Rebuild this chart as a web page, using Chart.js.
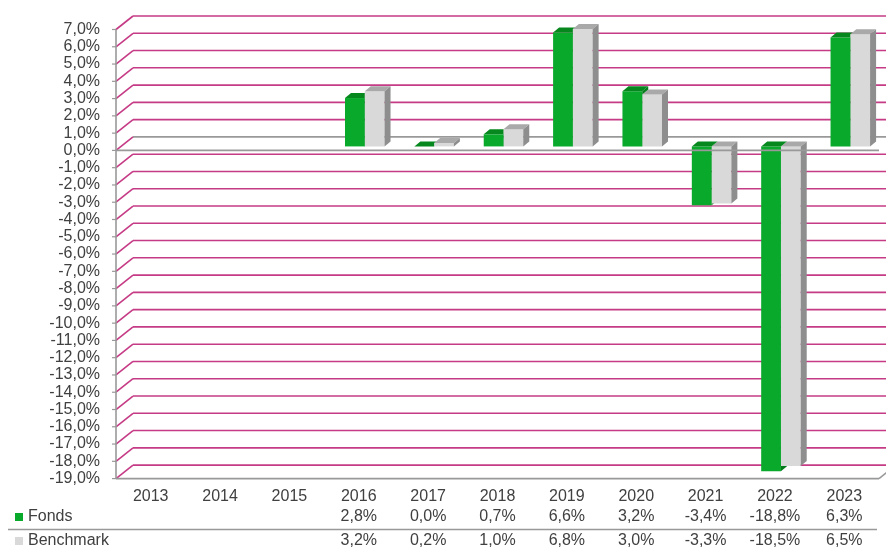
<!DOCTYPE html>
<html>
<head>
<meta charset="utf-8">
<script src="https://cdn.jsdelivr.net/npm/chart.js@4"></script>
<style>
  body { margin: 0; background: #fff; }
  canvas { display: block; }
</style>
</head>
<body>
<canvas id="perfChart" width="886" height="550"></canvas>
<script>
// Yearly performance, fund vs. benchmark (percent)
const years = ['2013', '2014', '2015', '2016', '2017', '2018', '2019', '2020', '2021', '2022', '2023'];
const fondsValues = [null, null, null, 2.8, 0.0, 0.7, 6.6, 3.2, -3.4, -18.8, 6.3];
const benchmarkValues = [null, null, null, 3.2, 0.2, 1.0, 6.8, 3.0, -3.3, -18.5, 6.5];
const seriesNames = ['Fonds', 'Benchmark'];
const yMin = -19;
const yMax = 7;

const GREEN = '#09a92b';
const GREEN_TOP = '#07881f';
const GREEN_SIDE = '#067a1c';
const GREY = '#d9d9d9';
const GREY_TOP = '#a9a9a9';
const GREY_SIDE = '#8e8e8e';
const GRID = '#c53b85';
const AXIS = '#999999';
const TEXT = '#404040';

// depth of the back wall, offset of the bar front plane, and bar depth
const WALL_DX = 17, WALL_DY = -13.5;
const BAR_DX = 6, BAR_DY = -4;
const FACE_DX = 6, FACE_DY = -5;

function pct(v) {
    return v.toFixed(1).replace('.', ',') + '%';
}

function line(ctx, x1, y1, x2, y2, color, width) {
    ctx.beginPath();
    ctx.moveTo(x1, y1);
    ctx.lineTo(x2, y2);
    ctx.strokeStyle = color;
    ctx.lineWidth = width;
    ctx.stroke();
}

// box of a bar element, or null when the value is missing
function barBox(chart, datasetIndex, i) {
    if (chart.data.datasets[datasetIndex].data[i] == null) return null;
    const el = chart.getDatasetMeta(datasetIndex).data[i];
    const p = el.getProps(['x', 'y', 'base', 'width'], true);
    return {
        l: p.x - p.width / 2,
        r: p.x + p.width / 2,
        t: Math.min(p.y, p.base),
        b: Math.max(p.y, p.base)
    };
}

function poly(ctx, pts) {
    ctx.moveTo(pts[0][0], pts[0][1]);
    for (let i = 1; i < pts.length; i++) ctx.lineTo(pts[i][0], pts[i][1]);
    ctx.closePath();
}

const box3d = {
    id: 'box3d',
    beforeDatasetsDraw(chart) {
        const ctx = chart.ctx;
        const { left, right, top, bottom } = chart.chartArea;
        const y = chart.scales.y;

        ctx.save();
        for (let v = yMin; v <= yMax; v++) {
            const yf = y.getPixelForValue(v);
            const yb = yf + WALL_DY;
            line(ctx, left + WALL_DX, yb, right + WALL_DX, yb, v === 0 ? AXIS : GRID, 1.6);
            line(ctx, left, yf, left + WALL_DX, yb, GRID, 1.6);
            line(ctx, left - 4, yf, left, yf, AXIS, 1.2);
        }
        line(ctx, left, top, left, bottom, AXIS, 1.6);
        line(ctx, left, bottom, right, bottom, AXIS, 1.6);
        line(ctx, right, bottom, right + WALL_DX, bottom + WALL_DY, AXIS, 1.6);
        ctx.restore();

        // bars stand a little behind the front plane
        ctx.save();
        ctx.translate(BAR_DX, BAR_DY);
    },
    afterDatasetDraw(chart, args) {
        const ctx = chart.ctx;
        const green = args.index === 0;
        const top = green ? GREEN_TOP : GREY_TOP;
        const side = green ? GREEN_SIDE : GREY_SIDE;
        const n = years.length;

        ctx.save();
        if (green) {
            // the grey bars to the right hide part of the green faces
            ctx.beginPath();
            ctx.rect(-200, -200, 2000, 2000);
            for (let i = 0; i < n; i++) {
                const g = barBox(chart, 1, i);
                if (!g) continue;
                poly(ctx, [[g.l, g.t], [g.l + FACE_DX, g.t + FACE_DY], [g.r + FACE_DX, g.t + FACE_DY],
                    [g.r + FACE_DX, g.b + FACE_DY], [g.r, g.b], [g.l, g.b]]);
            }
            ctx.clip('evenodd');
        }
        for (let i = 0; i < n; i++) {
            const b = barBox(chart, args.index, i);
            if (!b) continue;
            ctx.beginPath();
            poly(ctx, [[b.l, b.t], [b.r, b.t], [b.r + FACE_DX, b.t + FACE_DY], [b.l + FACE_DX, b.t + FACE_DY]]);
            ctx.fillStyle = top;
            ctx.fill();
            ctx.beginPath();
            poly(ctx, [[b.r, b.t], [b.r + FACE_DX, b.t + FACE_DY], [b.r + FACE_DX, b.b + FACE_DY], [b.r, b.b]]);
            ctx.fillStyle = side;
            ctx.fill();
        }
        ctx.restore();
    },
    afterDatasetsDraw(chart) {
        const ctx = chart.ctx;
        ctx.restore();
        const { left, right } = chart.chartArea;
        const y0 = chart.scales.y.getPixelForValue(0);
        ctx.save();
        line(ctx, left, y0, right, y0, AXIS, 1.6);
        ctx.restore();
    },
    afterDraw(chart) {
        // data table under the category labels
        const ctx = chart.ctx;
        const x = chart.scales.x;
        const rows = [
            { name: seriesNames[0], values: fondsValues, color: GREEN, y: 517 },
            { name: seriesNames[1], values: benchmarkValues, color: GREY, y: 541 }
        ];
        ctx.save();
        ctx.font = '16px "Liberation Sans", Arial, sans-serif';
        ctx.textBaseline = 'middle';
        rows.forEach(row => {
            ctx.fillStyle = row.color;
            ctx.fillRect(15, row.y - 4, 8, 8);
            ctx.fillStyle = TEXT;
            ctx.textAlign = 'left';
            ctx.fillText(row.name, 28, row.y);
            ctx.textAlign = 'center';
            row.values.forEach((v, i) => {
                if (v == null) return;
                ctx.fillText(pct(v), x.getPixelForValue(i), row.y);
            });
        });
        line(ctx, 8, 529.5, 877, 529.5, AXIS, 1.6);
        ctx.restore();
    }
};

Chart.defaults.font.family = '"Liberation Sans", Arial, sans-serif';
Chart.defaults.font.size = 16;
Chart.defaults.color = TEXT;

const ctx = document.getElementById('perfChart').getContext('2d');
const perfChart = new Chart(ctx, {
    type: 'bar',
    data: {
        labels: years,
        datasets: [
            {
                label: seriesNames[0],
                data: fondsValues,
                backgroundColor: GREEN,
                borderWidth: 0,
                clip: false
            },
            {
                label: seriesNames[1],
                data: benchmarkValues,
                backgroundColor: GREY,
                borderWidth: 0,
                clip: false
            }
        ]
    },
    options: {
        responsive: false,
        animation: false,
        devicePixelRatio: 1,
        categoryPercentage: 0.57,
        barPercentage: 1.0,
        layout: {
            padding: { left: 0, top: 29.5, right: 7, bottom: 0 }
        },
        plugins: {
            legend: { display: false },
            tooltip: { enabled: false }
        },
        scales: {
            x: {
                grid: { display: false, drawTicks: false },
                border: { display: false },
                ticks: { padding: 8, maxRotation: 0, autoSkip: false },
                afterFit: s => { s.height = 71.4; }
            },
            y: {
                min: yMin,
                max: yMax,
                grid: { display: false, drawTicks: false },
                border: { display: false },
                ticks: {
                    stepSize: 1,
                    autoSkip: false,
                    maxTicksLimit: 40,
                    padding: 16,
                    callback: v => pct(v)
                },
                afterFit: s => { s.width = 116; }
            }
        }
    },
    plugins: [box3d]
});
</script>
</body>
</html>
